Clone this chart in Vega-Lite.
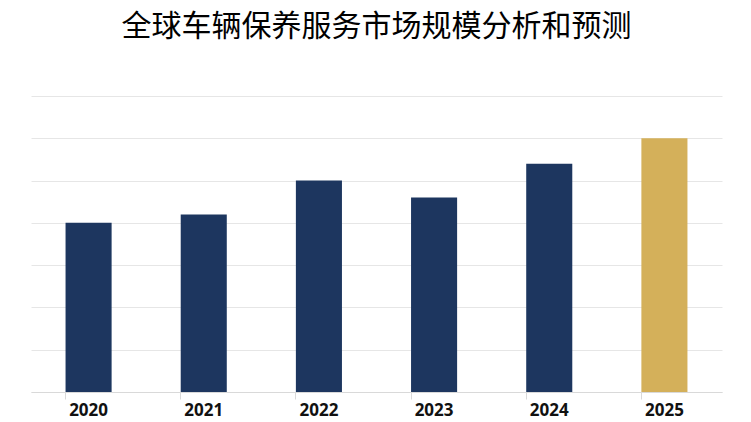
{
  "$schema": "https://vega.github.io/schema/vega-lite/v6.json",
  "autosize": "none",
  "width": 691,
  "height": 296,
  "padding": {"left": 31, "top": 96, "right": 29, "bottom": 30},
  "background": "white",
  "title": {
    "text": "全球车辆保养服务市场规模分析和预测",
    "font": "Noto Sans CJK SC",
    "fontSize": 30,
    "fontWeight": "normal",
    "color": "#000000",
    "anchor": "middle",
    "offset": 54
  },
  "data": {
    "values": [
      {"year": "2020", "value": 4.0, "type": "actual"},
      {"year": "2021", "value": 4.2, "type": "actual"},
      {"year": "2022", "value": 5.0, "type": "actual"},
      {"year": "2023", "value": 4.6, "type": "actual"},
      {"year": "2024", "value": 5.4, "type": "actual"},
      {"year": "2025", "value": 6.0, "type": "forecast"}
    ]
  },
  "mark": {"type": "bar"},
  "encoding": {
    "x": {
      "field": "year",
      "type": "ordinal",
      "title": null,
      "scale": {"paddingInner": 0.6, "paddingOuter": 0.3},
      "axis": {
        "labelAngle": 0,
        "labelFont": "Open Sans",
        "labelFontSize": 17,
        "labelFontWeight": "bold",
        "labelColor": "#111111",
        "labelPadding": 3,
        "bandPosition": 0,
        "tickSize": 7,
        "tickColor": "#d9d9d9",
        "domainColor": "#d9d9d9",
        "grid": false
      }
    },
    "y": {
      "field": "value",
      "type": "quantitative",
      "scale": {"domain": [0, 7]},
      "axis": {
        "title": null,
        "labels": false,
        "ticks": false,
        "domain": false,
        "tickCount": 7,
        "gridColor": "#e6e6e6"
      }
    },
    "color": {
      "field": "type",
      "type": "nominal",
      "scale": {"domain": ["actual", "forecast"], "range": ["#1d365f", "#d4b05a"]},
      "legend": null
    }
  },
  "config": {"view": {"stroke": null}}
}
